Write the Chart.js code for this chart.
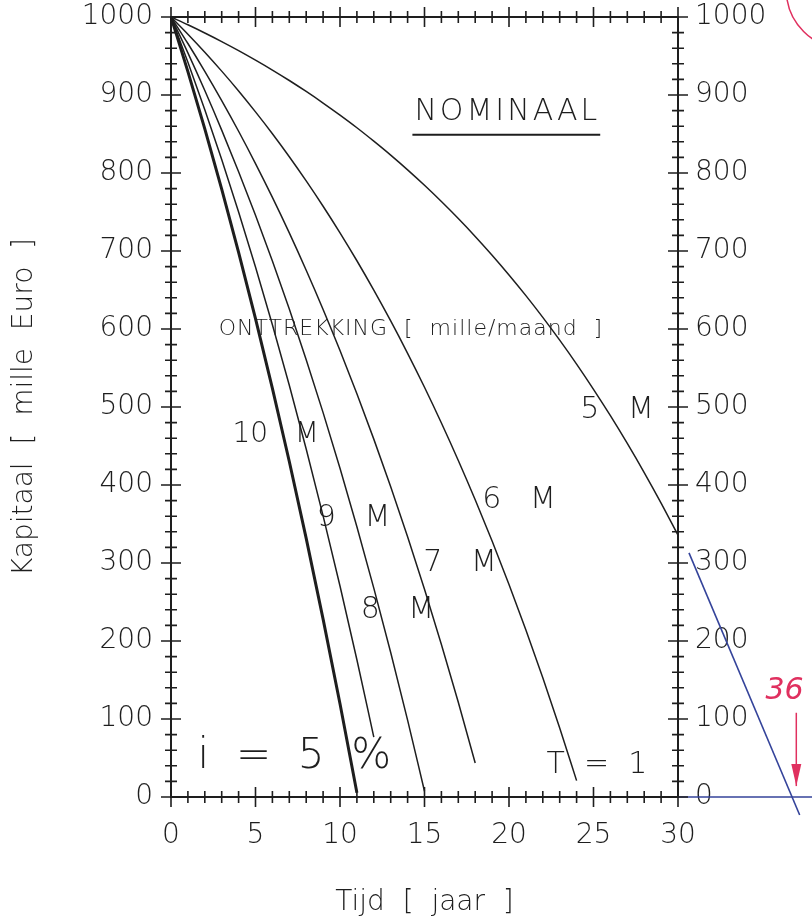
<!DOCTYPE html>
<html lang="nl">
<head>
    <meta charset="UTF-8">
    <title>Kapitaal - nominaal</title>
    <script src="https://cdn.jsdelivr.net/npm/chart.js"></script>
    <style>
        html, body { margin: 0; padding: 0; background: #fff; }
        canvas { display: block; }
    </style>
</head>
<body>
    <canvas id="kapitaalChart" width="812" height="921"></canvas>
    <script>
        // jaren 0..30
        const years = [0, 1, 2, 3, 4, 5, 6, 7, 8, 9, 10, 11, 12, 13, 14, 15, 16, 17, 18, 19, 20,
                       21, 22, 23, 24, 25, 26, 27, 28, 29, 30];

        // kapitaal [mille Euro] per jaar, per onttrekking
        const cap5M = [1000, 990, 979.5, 968.5, 956.9, 944.7, 932.0, 918.6, 904.5, 889.7, 874.2,
                       858.0, 840.8, 822.9, 804.0, 784.2, 763.4, 741.6, 718.7, 694.6, 669.3,
                       642.8, 614.9, 585.7, 555.0, 522.7, 488.9, 453.3, 416.0, 376.8, 335.6];
        const cap6M = [1000, 978, 954.9, 930.6, 905.2, 878.4, 850.4, 820.9, 789.9, 757.4, 723.3,
                       687.5, 649.8, 610.3, 568.8, 525.3, 479.5, 431.5, 381.1, 328.1, 272.5,
                       214.2, 152.9, 88.5, 21.0];
        const cap7M = [1000, 966, 930.3, 892.8, 853.5, 812.1, 768.7, 723.2, 675.3, 625.1, 572.4,
                       517.0, 458.8, 397.8, 333.6, 266.3, 195.6, 121.4, 43.5];
        const cap8M = [1000, 954, 905.7, 855.0, 801.7, 745.8, 687.1, 625.5, 560.7, 492.8, 421.4,
                       346.5, 267.8, 185.2, 98.5, 7.4];
        const cap9M = [1000, 942, 881.1, 817.2, 750.0, 679.5, 605.5, 527.8, 446.2, 360.5, 270.5,
                       176.0, 76.8];
        const cap10M = [1000, 930, 856.5, 779.3, 698.3, 613.2, 523.9, 430.1, 331.6, 228.1, 119.5, 5.5];

        const seriesNames = ['5 M', '6 M', '7 M', '8 M', '9 M', '10 M'];
        const seriesValues = [cap5M, cap6M, cap7M, cap8M, cap9M, cap10M];

        // handgetekende verlenging (blauw) voorbij 30 jaar
        const extYears = [30.65, 37.2];
        const extValues = [313, -23];
        const zeroLineYears = [30, 40];
        const zeroLineValues = [0, 0];

        const xTickValues = [0, 5, 10, 15, 20, 25, 30];
        const yTickValues = [0, 100, 200, 300, 400, 500, 600, 700, 800, 900, 1000];

        const INK = '#1e1e1e';
        const FONT = '"DejaVu Sans", sans-serif';

        const toPoints = (xs, ys) => ys.map((y, i) => ({ x: xs[i], y: y }));

        const datasets = seriesValues.map((vals, i) => ({
            label: seriesNames[i],
            data: toPoints(years, vals),
            borderColor: INK,
            borderWidth: i === 5 ? 3 : 1.5,
            pointRadius: 0,
            cubicInterpolationMode: 'monotone',
            fill: false
        }));
        datasets.push({
            label: 'verlenging',
            data: toPoints(extYears, extValues),
            borderColor: '#34439a',
            borderWidth: 1.6,
            pointRadius: 0,
            clip: false
        });
        datasets.push({
            label: 'nullijn',
            data: toPoints(zeroLineYears, zeroLineValues),
            borderColor: '#34439a',
            borderWidth: 1.6,
            pointRadius: 0,
            clip: false
        });

        // kleine en grote maatstreepjes aan alle vier zijden
        const tickMarks = {
            id: 'tickMarks',
            afterDraw(chart) {
                const { ctx, chartArea: a, scales } = chart;
                const x = scales.x, y = scales.y;
                ctx.save();
                ctx.strokeStyle = INK;
                ctx.lineWidth = 1.6;
                ctx.beginPath();
                for (let v = 0; v <= 30; v++) {
                    const px = x.getPixelForValue(v);
                    const len = v % 5 === 0 ? 10 : 6;
                    ctx.moveTo(px, a.bottom - len); ctx.lineTo(px, a.bottom + len);
                    ctx.moveTo(px, a.top - len); ctx.lineTo(px, a.top + len);
                }
                for (let v = 0; v <= 1000; v += 20) {
                    const py = y.getPixelForValue(v);
                    const len = v % 100 === 0 ? 10 : 6;
                    ctx.moveTo(a.left - len, py); ctx.lineTo(a.left + len, py);
                    ctx.moveTo(a.right - len, py); ctx.lineTo(a.right + len, py);
                }
                ctx.stroke();
                ctx.restore();
            }
        };

        // teksten in de grafiek
        const notes = [
            { text: '5   M', x: 26.4, y: 496, size: 30 },
            { text: '6   M', x: 20.6, y: 381, size: 30 },
            { text: '7   M', x: 17.1, y: 300, size: 30 },
            { text: '8   M', x: 13.4, y: 240, size: 30 },
            { text: '9   M', x: 10.8, y: 358, size: 30 },
            { text: '10   M', x: 6.2, y: 464, size: 28 },
            { text: 'ONTTREKKING  [  mille/maand  ]', x: 14.2, y: 599, size: 22, spacing: 1 },
            { text: 'i  =  5  %', x: 7.3, y: 51, size: 42 },
            { text: 'T  =  1', x: 25.2, y: 41, size: 30 },
            { text: 'NOMINAAL', x: 19.9, y: 878, size: 30, spacing: 3, underline: true }
        ];

        const annotations = {
            id: 'annotations',
            afterDraw(chart) {
                const { ctx, scales } = chart;
                const x = scales.x, y = scales.y;
                ctx.save();
                ctx.fillStyle = INK;
                ctx.textAlign = 'center';
                ctx.textBaseline = 'middle';
                notes.forEach(n => {
                    ctx.font = '200 ' + n.size + 'px ' + FONT;
                    ctx.letterSpacing = (n.spacing || 0) + 'px';
                    const px = x.getPixelForValue(n.x), py = y.getPixelForValue(n.y);
                    ctx.fillText(n.text, px, py);
                    if (n.underline) {
                        const w = ctx.measureText(n.text).width;
                        ctx.strokeStyle = INK;
                        ctx.lineWidth = 2;
                        ctx.beginPath();
                        ctx.moveTo(px - w / 2 - 2, py + n.size * 0.75);
                        ctx.lineTo(px + w / 2, py + n.size * 0.75);
                        ctx.stroke();
                    }
                });
                ctx.letterSpacing = '0px';

                // rode aantekening: 36 jaar
                ctx.fillStyle = '#e0305f';
                ctx.strokeStyle = '#e0305f';
                ctx.font = 'italic 200 30px ' + FONT;
                ctx.fillText('36', x.getPixelForValue(36.3), y.getPixelForValue(135));
                const ax = x.getPixelForValue(37.0);
                const ay0 = y.getPixelForValue(108), ay1 = y.getPixelForValue(14);
                ctx.lineWidth = 1.5;
                ctx.beginPath();
                ctx.moveTo(ax, ay0); ctx.lineTo(ax, ay1);
                ctx.stroke();
                ctx.beginPath();
                ctx.moveTo(ax, ay1);
                ctx.lineTo(ax - 5, ay1 - 22);
                ctx.lineTo(ax + 5, ay1 - 22);
                ctx.closePath();
                ctx.fill();

                // rode cirkel rechtsboven (afgesneden)
                ctx.lineWidth = 1.5;
                ctx.beginPath();
                ctx.arc(x.getPixelForValue(39.9), y.getPixelForValue(1035), 59, 0, Math.PI * 2);
                ctx.stroke();
                ctx.restore();
            }
        };

        const tickFont = { family: FONT, size: 28, weight: '200' };
        const plainLabel = v => String(v);
        const noPad = s => { s.paddingTop = 0; s.paddingBottom = 0; };

        new Chart(document.getElementById('kapitaalChart'), {
            type: 'line',
            data: { datasets: datasets },
            options: {
                responsive: false,
                animation: false,
                devicePixelRatio: 1,
                layout: { padding: 0 },
                plugins: { legend: { display: false }, tooltip: { enabled: false } },
                scales: {
                    x: {
                        type: 'linear', position: 'bottom', min: 0, max: 30,
                        afterBuildTicks: s => { s.ticks = xTickValues.map(v => ({ value: v })); },
                        afterFit: s => { s.height = 124; s.paddingLeft = 0; s.paddingRight = 0; },
                        ticks: { font: tickFont, color: INK, padding: 22, maxRotation: 0, callback: plainLabel },
                        grid: { drawOnChartArea: false, drawTicks: false },
                        border: { color: INK, width: 2 },
                        title: {
                            display: true, text: 'Tijd  [  jaar  ]', color: INK,
                            font: { family: FONT, size: 28, weight: '200' },
                            padding: { top: 0, bottom: 1 }
                        }
                    },
                    xTop: {
                        type: 'linear', position: 'top', min: 0, max: 30,
                        afterFit: s => { s.height = 17; s.paddingLeft = 0; s.paddingRight = 0; },
                        ticks: { display: false },
                        grid: { drawOnChartArea: false, drawTicks: false },
                        border: { color: INK, width: 2 }
                    },
                    y: {
                        type: 'linear', position: 'left', min: 0, max: 1000,
                        afterBuildTicks: s => { s.ticks = yTickValues.map(v => ({ value: v })); },
                        afterFit: s => { s.width = 171; noPad(s); },
                        ticks: { font: tickFont, color: INK, padding: 18, callback: plainLabel },
                        grid: { drawOnChartArea: false, drawTicks: false },
                        border: { color: INK, width: 2 },
                        title: {
                            display: true, text: 'Kapitaal  [  mille  Euro  ]', color: INK,
                            font: { family: FONT, size: 28, weight: '200' },
                            padding: { top: 8, bottom: 0 }
                        }
                    },
                    yRight: {
                        type: 'linear', position: 'right', min: 0, max: 1000,
                        afterBuildTicks: s => { s.ticks = yTickValues.map(v => ({ value: v })); },
                        afterFit: s => { s.width = 134; noPad(s); },
                        ticks: { font: tickFont, color: INK, padding: 17, callback: plainLabel },
                        grid: { drawOnChartArea: false, drawTicks: false },
                        border: { color: INK, width: 2 }
                    }
                }
            },
            plugins: [tickMarks, annotations]
        });
    </script>
</body>
</html>
